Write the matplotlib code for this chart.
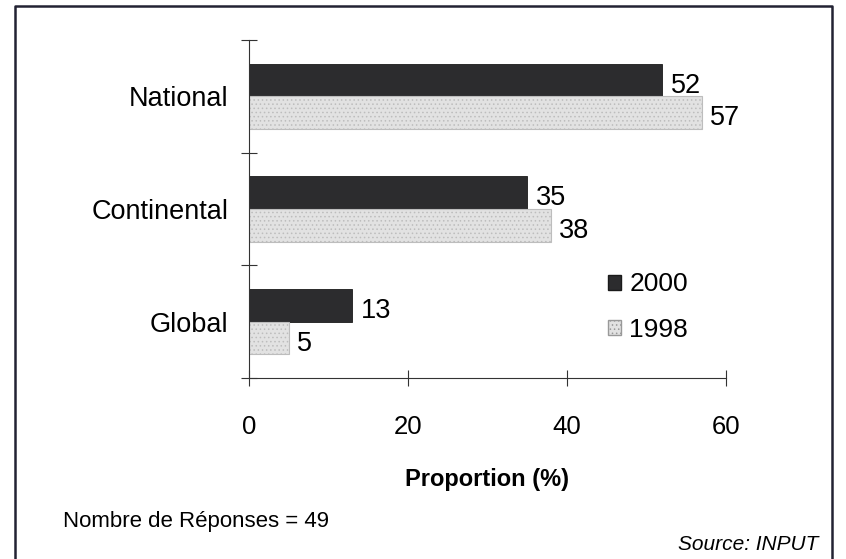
import matplotlib
matplotlib.use("Agg")
import matplotlib.pyplot as plt
from matplotlib.lines import Line2D
from matplotlib.patches import Patch

plt.rcParams['font.family'] = ['Liberation Sans', 'DejaVu Sans']
plt.rcParams['hatch.linewidth'] = 0.6

# survey data
categories = ['Global', 'Continental', 'National']
years = ['2000', '1998']
share_2000 = [13, 35, 52]
share_1998 = [5, 38, 57]
x_ticks = [0, 20, 40, 60]

dark = '#2c2c2e'
light = '#e2e2e2'

fig = plt.figure(figsize=(8.46, 5.59), dpi=100)
ax = fig.add_axes([0.2943, 0.3238, 0.5638, 0.6047])

pos = list(range(len(categories)))
h = 0.29
b2000 = ax.barh([p + h / 2 for p in pos], share_2000, height=h,
                color=dark, edgecolor='#1a1a1a', linewidth=0.6)
b1998 = ax.barh([p - h / 2 for p in pos], share_1998, height=h,
                color=light, edgecolor='#bdbdbd', linewidth=0.8, hatch='....')

for bars, vals in ((b2000, share_2000), (b1998, share_1998)):
    for rect, v in zip(bars, vals):
        ax.annotate(str(v), (v, rect.get_y() + rect.get_height() / 2),
                    xytext=(6, -4), textcoords='offset points',
                    ha='left', va='center', fontsize=19.5)

ax.set_xlim(0, 60)
ax.set_ylim(-0.5, 2.5)
ax.set_xticks(x_ticks)
ax.set_xticklabels([str(t) for t in x_ticks], fontsize=18.5)
ax.set_yticks([-0.5, 0.5, 1.5, 2.5])
ax.set_yticklabels([])
ax.set_yticks(pos, minor=True)
ax.set_yticklabels(categories, minor=True, fontsize=19.5)
ax.tick_params(axis='y', which='minor', length=0, pad=15)
ax.tick_params(axis='both', which='major', direction='inout', length=11,
               width=0.8, color='#333333')
ax.tick_params(axis='x', pad=21)
for s in ('top', 'right'):
    ax.spines[s].set_visible(False)
for s in ('left', 'bottom'):
    ax.spines[s].set_color('#333333')
    ax.spines[s].set_linewidth(0.8)

ax.set_xlabel('Proportion (%)', fontsize=17, fontweight='bold', labelpad=21)

handles = [Patch(facecolor=dark, edgecolor='#1a1a1a'),
           Patch(facecolor=light, edgecolor='#999999', hatch='....')]
ax.legend(handles, years, loc='center left', bbox_to_anchor=(0.703, 0.21),
          frameon=False, fontsize=19, handlelength=0.5, handleheight=0.5,
          handletextpad=0.3, labelspacing=0.8)

fig.text(63 / 846, 1 - 522 / 559, 'Nombre de Réponses = 49', fontsize=16,
         va='center', ha='left')
fig.text(818 / 846, 1 - 545 / 559, 'Source: INPUT', fontsize=15,
         style='italic', va='center', ha='right')

# outer frame, open at the bottom
fx = [15 / 846, 15 / 846, 832 / 846, 832 / 846]
fy = [0, 1 - 6 / 559, 1 - 6 / 559, 0]
fig.add_artist(Line2D(fx, fy, transform=fig.transFigure, color='#222233',
                      linewidth=1.8))

fig.savefig('out.png', dpi=100)
